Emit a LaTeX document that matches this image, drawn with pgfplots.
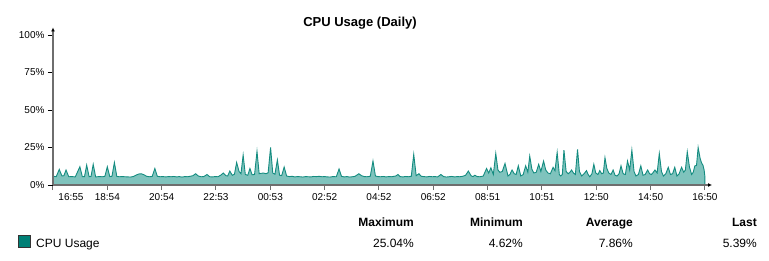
\documentclass[border=0pt]{standalone}
\usepackage{pgfplots}
\pgfplotsset{compat=1.18}
\usepackage{fontspec}
\setmainfont{Liberation Sans}
\usetikzlibrary{arrows.meta}
\definecolor{cpuline}{RGB}{20,140,128}
\definecolor{cpufill}{RGB}{127,195,189}
\definecolor{cpubox}{RGB}{0,128,118}
\definecolor{axgray}{RGB}{110,110,110}
\begin{document}
\begin{tikzpicture}[x=1pt,y=1pt]
\useasboundingbox (0,0) rectangle (769,260);
\begin{axis}[
  at={(53pt,75pt)}, anchor=south west,
  scale only axis, width=659pt, height=157.5pt,
  xmin=0, xmax=24.26, ymin=0, ymax=105,
  axis lines=left, axis on top,
  x axis line style={draw=axgray, line width=1.3pt, -{Latex[length=4pt,width=4pt,black]}},
  y axis line style={draw=axgray, line width=1.3pt, -{Latex[length=4pt,width=4pt,black]}},
  tick align=outside, major tick length=5pt,
  xtick={0,2,4,6,8,10,12,14,16,18,20,22,24},
  xticklabels={\hspace*{36pt}16:55,18:54,20:54,22:53,00:53,02:52,04:52,06:52,08:51,10:51,12:50,14:50,16:50},
  ytick={0,25,50,75,100},
  yticklabels={0\%,25\%,50\%,75\%,100\%},
  x tick style={draw=axgray, line width=1pt},
  y tick style={draw=black, line width=0.8pt},
  ticklabel style={font=\fontsize{10}{12}\selectfont, text=black},
  /pgf/number format/assume math mode=true,
]
\addplot[draw=cpuline, line width=0.9pt, fill=cpufill] coordinates {
(0.00,5.8)(0.12,5.6)(0.23,10.4)(0.33,6.0)(0.40,6.2)(0.48,10.0)(0.58,5.5)(0.70,5.6)(0.82,5.4)(0.99,12.2)
(1.08,5.5)(1.16,5.6)(1.24,13.3)(1.33,5.5)(1.40,5.7)(1.48,13.8)(1.57,5.4)(1.70,5.6)(1.82,5.5)(1.91,5.8)
(2.00,12.2)(2.09,5.6)(2.17,5.8)(2.26,15.0)(2.35,5.7)(2.45,5.5)(2.55,5.6)(2.65,5.5)(2.75,5.4)(2.85,5.3)
(2.95,5.6)(3.05,6.5)(3.15,7.3)(3.25,7.5)(3.35,6.8)(3.45,5.8)(3.55,5.5)(3.65,5.7)(3.75,11.0)(3.84,5.8)
(3.95,5.5)(4.05,5.6)(4.15,5.4)(4.25,5.6)(4.35,5.5)(4.45,5.7)(4.55,5.4)(4.65,5.6)(4.75,5.3)(4.85,5.6)
(4.95,5.5)(5.05,5.8)(5.15,6.2)(5.25,7.5)(5.35,6.0)(5.45,5.5)(5.55,5.6)(5.67,7.0)(5.77,5.5)(5.87,5.4)
(5.97,5.6)(6.07,5.5)(6.17,6.5)(6.27,8.0)(6.37,6.2)(6.43,6.0)(6.51,9.3)(6.60,6.5)(6.68,7.2)(6.76,15.0)
(6.85,9.0)(6.92,7.5)(7.00,20.0)(7.08,7.0)(7.17,6.5)(7.25,11.0)(7.33,6.8)(7.42,7.0)(7.51,22.4)(7.59,7.5)
(7.67,7.8)(7.75,8.0)(7.84,7.5)(7.92,8.2)(8.01,25.04)(8.09,8.0)(8.17,7.2)(8.26,16.7)(8.34,6.5)(8.42,6.3)
(8.51,12.0)(8.60,6.0)(8.70,5.6)(8.80,5.8)(8.90,5.4)(9.00,5.6)(9.10,5.5)(9.20,5.3)(9.30,5.6)(9.40,5.5)
(9.50,5.4)(9.60,5.7)(9.70,5.6)(9.80,5.8)(9.90,5.5)(10.00,5.6)(10.10,5.4)(10.20,5.3)(10.30,5.6)(10.43,5.5)
(10.53,10.7)(10.62,5.8)(10.72,5.4)(10.82,5.6)(10.92,5.3)(11.02,5.5)(11.12,5.8)(11.26,7.5)(11.36,6.2)(11.46,5.6)
(11.56,5.5)(11.68,5.8)(11.78,16.0)(11.87,6.0)(11.96,5.6)(12.06,5.5)(12.16,5.7)(12.26,5.4)(12.36,5.6)(12.46,5.5)
(12.56,5.8)(12.62,6.0)(12.70,7.0)(12.78,5.6)(12.88,5.4)(12.98,5.7)(13.08,5.5)(13.19,5.8)(13.28,20.4)(13.37,6.2)
(13.47,7.5)(13.56,5.8)(13.66,5.6)(13.76,5.4)(13.86,5.7)(13.96,5.5)(14.06,5.6)(14.16,5.4)(14.28,7.0)(14.38,5.6)
(14.48,5.3)(14.58,5.5)(14.68,5.7)(14.78,5.4)(14.88,5.6)(14.98,5.5)(15.08,5.8)(15.19,6.5)(15.29,9.3)(15.39,6.2)
(15.46,5.6)(15.53,6.5)(15.62,5.6)(15.72,5.5)(15.84,6.0)(15.96,11.0)(16.04,8.0)(16.12,11.5)(16.21,7.0)(16.30,21.0)
(16.38,10.0)(16.45,8.5)(16.54,9.0)(16.64,14.4)(16.75,6.0)(16.82,7.0)(16.90,10.0)(16.98,7.5)(17.05,7.0)(17.13,12.8)
(17.22,6.0)(17.31,7.0)(17.40,12.8)(17.48,8.5)(17.55,19.3)(17.63,10.5)(17.70,8.0)(17.79,8.5)(17.88,13.8)(17.96,9.0)
(18.06,16.0)(18.14,10.0)(18.22,8.0)(18.31,7.5)(18.41,11.8)(18.48,9.5)(18.56,21.8)(18.64,7.0)(18.69,6.0)(18.75,7.0)
(18.81,23.3)(18.89,9.0)(18.97,7.5)(19.03,8.5)(19.09,10.0)(19.16,8.0)(19.23,7.0)(19.31,23.8)(19.38,9.0)(19.46,6.0)
(19.55,7.5)(19.64,9.6)(19.70,7.0)(19.76,5.5)(19.84,7.5)(19.91,13.8)(19.98,8.0)(20.06,7.0)(20.13,9.6)(20.20,7.5)
(20.26,8.0)(20.32,18.2)(20.39,11.0)(20.46,8.0)(20.54,7.0)(20.62,10.0)(20.69,6.5)(20.76,6.0)(20.84,7.5)(20.91,12.8)
(20.99,7.5)(21.07,7.0)(21.15,16.0)(21.23,10.0)(21.31,23.3)(21.39,9.0)(21.46,6.0)(21.55,7.0)(21.64,12.8)(21.72,6.5)
(21.80,7.0)(21.89,10.0)(21.96,7.5)(22.03,7.0)(22.08,8.0)(22.16,10.0)(22.24,8.0)(22.32,21.0)(22.40,9.0)(22.47,6.0)
(22.56,7.5)(22.65,11.8)(22.73,7.0)(22.81,7.5)(22.89,11.8)(22.97,6.0)(23.05,7.5)(23.14,11.8)(23.22,8.5)(23.28,10.0)
(23.35,22.2)(23.43,12.0)(23.51,7.0)(23.57,8.5)(23.63,12.8)(23.69,13.0)(23.75,25.0)(23.82,18.0)(23.87,15.0)(23.93,13.0)
(23.97,10.0)(24.00,5.39)
} \closedcycle;
\end{axis}
\node[font=\fontsize{13}{15}\selectfont\bfseries, anchor=base] at (360,233) {CPU Usage (Daily)};
\begin{scope}[font=\fontsize{12}{14}\selectfont]
\node[font=\fontsize{12}{14}\selectfont\bfseries, anchor=base east, inner sep=0pt] at (414,33.5) {Maximum};
\node[font=\fontsize{12}{14}\selectfont\bfseries, anchor=base east, inner sep=0pt] at (523,33.5) {Minimum};
\node[font=\fontsize{12}{14}\selectfont\bfseries, anchor=base east, inner sep=0pt] at (633,33.5) {Average};
\node[font=\fontsize{12}{14}\selectfont\bfseries, anchor=base east, inner sep=0pt] at (757,33.5) {Last};
\node[anchor=base east, inner sep=0pt] at (414,12.5) {25.04\%};
\node[anchor=base east, inner sep=0pt] at (523,12.5) {4.62\%};
\node[anchor=base east, inner sep=0pt] at (633,12.5) {7.86\%};
\node[anchor=base east, inner sep=0pt] at (757,12.5) {5.39\%};
\filldraw[fill=cpubox, draw=black!80, line width=0.8pt] (18,12.5) rectangle (30,24.5);
\node[anchor=base west, inner sep=0pt] at (36,12.5) {CPU Usage};
\end{scope}
\end{tikzpicture}
\end{document}
